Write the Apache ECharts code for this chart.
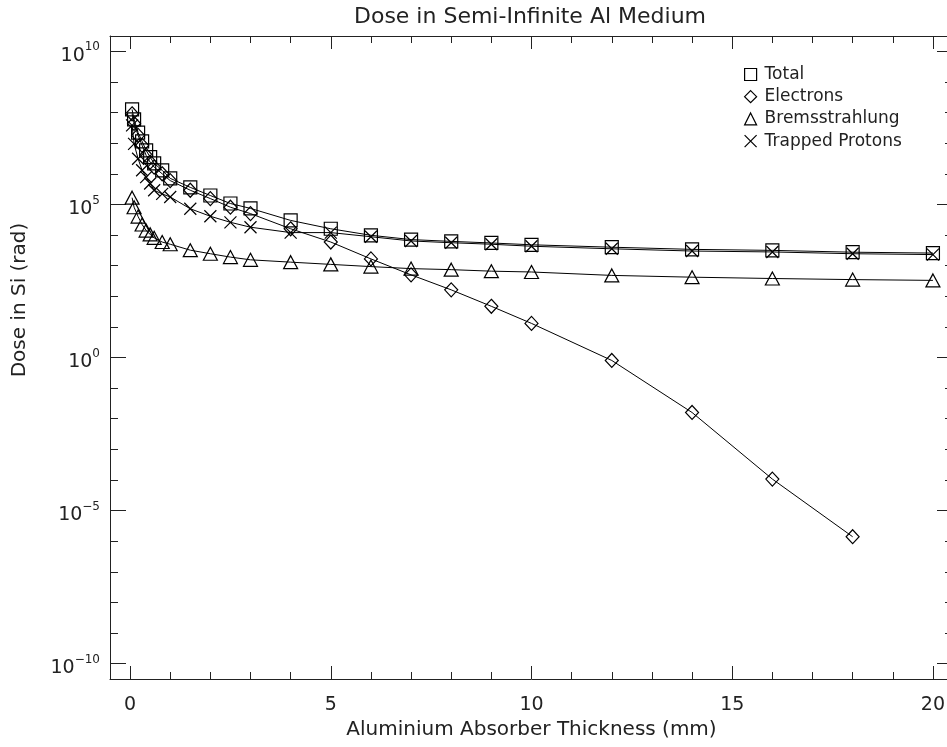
<!DOCTYPE html>
<html>
<head>
<meta charset="utf-8">
<script src="https://cdn.jsdelivr.net/npm/echarts@6/dist/echarts.min.js"></script>
<style>html,body{margin:0;padding:0;background:#fff;overflow:hidden}#c{width:960px;height:747px}</style>
</head>
<body>
<div id="c"></div>
<script>
// Depths (mm)
const depths = [0.05,0.1,0.2,0.3,0.4,0.5,0.6,0.8,1.0,1.5,2,2.5,3,4,5,6,7,8,9,10,12,14,16,18,20];
// Dose in Si (rad)
const doseTotal = [1.26e8,6.0e7,2.2e7,1.15e7,5.8e6,3.5e6,2.2e6,1.3e6,7.1e5,3.6e5,1.95e5,1.07e5,7.4e4,3.0e4,1.6e4,9.8e3,7.1e3,6.2e3,5.5e3,4.8e3,4.0e3,3.4e3,3.15e3,2.75e3,2.57e3];
const doseElectrons = [9.1e7,4.4e7,1.8e7,8.5e6,4.0e6,2.4e6,1.65e6,1.0e6,6.0e5,2.9e5,1.55e5,8.1e4,5.0e4,1.6e4,5.9e3,1.66e3,500,162,47,13,0.8,0.016,1.07e-4,1.4e-6];
const doseBrems = [1.66e5,8.1e4,4.0e4,2.2e4,1.4e4,1.05e4,8.1e3,5.9e3,5.0e3,3.2e3,2.45e3,1.9e3,1.55e3,1.3e3,1.1e3,930,800,740,660,620,480,420,380,350,330];
const doseProtons = [3.8e7,9.5e6,3.1e6,1.3e6,7.8e5,4.8e5,2.9e5,2.2e5,1.75e5,7.2e4,4.1e4,2.6e4,1.8e4,1.2e4,1.2e4,8.8e3,6.4e3,5.6e3,5.0e3,4.3e3,3.55e3,3.0e3,2.8e3,2.45e3,2.3e3];
const seriesNames = ['Total','Electrons','Bremsstrahlung','Trapped Protons'];
const xTickLabels = [0,5,10,15,20];
const yTickExponents = [-10,-5,0,5,10];

const FONT = 'DejaVu Sans';
const INK = '#222';
const X_MIN = -0.5, X_MAX = 20.5;
const Y_EXP_MIN = -10.5, Y_EXP_MAX = 10.5;
const xSymbol = 'path://M0 0L10 10M10 0L0 10';

function pairs(vals){ return vals.map((v,i)=>[depths[i], v]); }

const chart = echarts.init(document.getElementById('c'), null, {renderer:'canvas'});

function tickAxis(pos, min, max, splitNumber, len){
  return {
    type:'value', position:pos, min:min, max:max, splitNumber:splitNumber,
    axisLine:{show:false, onZero:false},
    axisTick:{show:true, inside:true, length:len, lineStyle:{color:INK, width:1}},
    axisLabel:{show:false},
    splitLine:{show:false}
  };
}

const option = {
  animation:false,
  backgroundColor:'#fff',
  title:{
    text:'Dose in Semi-Infinite Al Medium',
    left:525, top:1, textAlign:'center',
    textStyle:{fontFamily:FONT, fontSize:22, fontWeight:'normal', color:INK}
  },
  legend:{
    orient:'vertical', left:739, top:61,
    itemWidth:12, itemHeight:12, itemGap:5.2,
    textStyle:{fontFamily:FONT, fontSize:17, color:INK, lineHeight:17, padding:[0,0,0,3]},
    itemStyle:{color:'rgba(0,0,0,0)', borderColor:'#000', borderWidth:1.2},
    data:[
      {name:seriesNames[0], icon:'rect'},
      {name:seriesNames[1], icon:'diamond'},
      {name:seriesNames[2], icon:'triangle'},
      {name:seriesNames[3], icon:xSymbol}
    ]
  },
  grid:{left:110, top:36, right:7, bottom:68, containLabel:false},
  xAxis:[
    {
      type:'value', position:'bottom', min:X_MIN, max:X_MAX, splitNumber:4,
      axisLine:{show:true, onZero:false, lineStyle:{color:INK, width:1}},
      axisTick:{show:true, inside:true, length:13, lineStyle:{color:INK}},
      axisLabel:{show:true, margin:17, showMinLabel:false, showMaxLabel:false,
        fontFamily:FONT, fontSize:19, color:INK,
        formatter:v => xTickLabels.indexOf(v) >= 0 ? String(v) : ''},
      splitLine:{show:false},
      name:'Aluminium Absorber Thickness (mm)', nameLocation:'middle', nameGap:36,
      nameTextStyle:{fontFamily:FONT, fontSize:20, color:INK}
    },
    tickAxis('bottom', X_MIN, X_MAX, 20, 7),
    {
      type:'value', position:'top', min:X_MIN, max:X_MAX, splitNumber:4,
      axisLine:{show:true, onZero:false, lineStyle:{color:INK, width:1}},
      axisTick:{show:true, inside:true, length:13, lineStyle:{color:INK}},
      axisLabel:{show:false}, splitLine:{show:false}
    },
    tickAxis('top', X_MIN, X_MAX, 20, 7)
  ],
  yAxis:[
    {
      type:'log', position:'left', min:Math.pow(10,Y_EXP_MIN), max:Math.pow(10,Y_EXP_MAX),
      axisLine:{show:true, onZero:false, lineStyle:{color:INK, width:1}},
      axisTick:{show:false}, axisLabel:{show:false}, splitLine:{show:false}, minorSplitLine:{show:false},
      name:'Dose in Si (rad)', nameLocation:'middle', nameGap:80, nameRotate:90,
      nameTextStyle:{fontFamily:FONT, fontSize:20, color:INK, padding:[0,0,0,115]}
    },
    {
      type:'value', position:'left', min:Y_EXP_MIN, max:Y_EXP_MAX, splitNumber:4,
      axisLine:{show:false, onZero:false},
      axisTick:{show:true, inside:true, length:16, lineStyle:{color:INK}},
      axisLabel:{show:true, margin:10, showMinLabel:false, showMaxLabel:false,
        padding:[4,0,0,0],
        formatter:v => {
          if (yTickExponents.indexOf(v) < 0) return '';
          const e = v < 0 ? '\u2212' + Math.abs(v) : String(v);
          return '{b|10}{s|' + e + '}';
        },
        rich:{
          b:{fontFamily:FONT, fontSize:19, color:INK, lineHeight:24, verticalAlign:'bottom'},
          s:{fontFamily:FONT, fontSize:12, color:INK, lineHeight:12, verticalAlign:'top'}
        }},
      splitLine:{show:false}
    },
    tickAxis('left', Y_EXP_MIN, Y_EXP_MAX, 20, 8),
    {
      type:'value', position:'right', min:Y_EXP_MIN, max:Y_EXP_MAX, splitNumber:4,
      axisLine:{show:true, onZero:false, lineStyle:{color:INK, width:1}},
      axisTick:{show:true, inside:true, length:16, lineStyle:{color:INK}},
      axisLabel:{show:false}, splitLine:{show:false}
    },
    tickAxis('right', Y_EXP_MIN, Y_EXP_MAX, 20, 8)
  ],
  series:[
    {name:seriesNames[0], data:pairs(doseTotal), symbol:'rect', symbolSize:13},
    {name:seriesNames[1], data:pairs(doseElectrons), symbol:'diamond', symbolSize:[13,14]},
    {name:seriesNames[2], data:pairs(doseBrems), symbol:'triangle', symbolSize:[14,13]},
    {name:seriesNames[3], data:pairs(doseProtons), symbol:xSymbol, symbolSize:12}
  ].map(s => Object.assign({
    type:'line', xAxisIndex:0, yAxisIndex:0,
    showSymbol:true, showAllSymbol:true,
    lineStyle:{color:'#000', width:1},
    itemStyle:{color:'rgba(0,0,0,0)', borderColor:'#000', borderWidth:1.2},
    emphasis:{disabled:true}
  }, s))
};
chart.setOption(option);
</script>
</body>
</html>
